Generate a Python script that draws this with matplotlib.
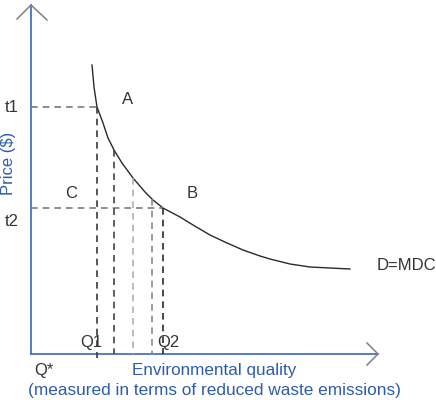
import matplotlib
matplotlib.use("Agg")
import matplotlib.pyplot as plt

plt.rcParams['font.family'] = ['Liberation Sans', 'DejaVu Sans']

# demand curve D=MDC (quantity, price)
curve_q = [61, 63, 66, 72, 77, 83, 91, 102, 114, 122, 132, 149, 162, 179,
           196, 212, 229, 239, 259, 279, 299, 319]
curve_p = [289, 267, 247, 231, 216, 204, 191, 176, 162, 154, 146, 137, 129,
           119, 111, 104, 98, 95, 90, 87, 86, 85]

# levels
t1, t2 = 247, 146
q1, q2 = 66, 132
# intermediate quantities with their price on the curve
mid_q = [83, 102, 121]
mid_p = [204, 176, 155]
mid_colors = ['#444444', '#b0b0b0', '#8a8a8a']

axis_blue = '#4a72c0'
text_blue = '#2f5ca8'
dark = '#333333'
dash_grey = '#7a7a7a'

fig = plt.figure(figsize=(4.36, 4.0), dpi=100)
ax = fig.add_axes([0, 0, 1, 1])
ax.set_xlim(-31, 405)
ax.set_ylim(-46, 354)
ax.axis('off')

# axes with open arrow heads
ax.plot([0, 0], [0, 349], color=axis_blue, lw=1.3)
ax.plot([0, 347], [0, 0], color=axis_blue, lw=1.3)
ax.plot([-14, 0, 16], [335, 349, 334], color='#808080', lw=1.1)
ax.plot([336, 347, 336], [11, 0, -11], color='#808080', lw=1.1)

# demand curve
ax.plot(curve_q, curve_p, color='#2a2a2a', lw=1.0, solid_joinstyle='round')

dash = (0, (4, 3))
# horizontal guides
ax.plot([0, q1], [t1, t1], color=dash_grey, lw=1.2, linestyle=dash)
ax.plot([0, q2], [t2, t2], color=dash_grey, lw=1.2, linestyle=dash)
# vertical guides
ax.plot([q1, q1], [t1, -4], color='#3a3a3a', lw=1.2, linestyle=dash)
for q, p, c in zip(mid_q, mid_p, mid_colors):
    ax.plot([q, q], [p, 0], color=c, lw=1.2, linestyle=dash)
ax.plot([q2, q2], [t2, 0], color='#2a2a2a', lw=1.2, linestyle=dash)

fs = 12
ax.text(-19, t1, 't1', fontsize=fs, color=dark, ha='center', va='center')
ax.text(-19, 132, 't2', fontsize=fs, color=dark, ha='center', va='center')
ax.text(97, 255, 'A', fontsize=fs, color=dark, ha='center', va='center')
ax.text(161, 161, 'B', fontsize=fs, color=dark, ha='center', va='center')
ax.text(40, 161, 'C', fontsize=fs, color=dark, ha='center', va='center')
ax.text(346, 89, 'D=MDC', fontsize=fs, color=dark, ha='left', va='center')
ax.text(60, 12, 'Q1', fontsize=fs, color=dark, ha='center', va='center')
ax.text(137, 12, 'Q2', fontsize=fs, color=dark, ha='center', va='center')
ax.text(13, -16, 'Q*', fontsize=fs, color=dark, ha='center', va='center')

ax.text(-23, 191, 'Price ($)', fontsize=fs, color=text_blue, ha='center',
        va='center', rotation=90)
ax.text(101, -16, 'Environmental quality', fontsize=12.3, color=text_blue,
        ha='left', va='center')
ax.text(183, -36, '(measured in terms of reduced waste emissions)',
        fontsize=12.4, color=text_blue, ha='center', va='center')

fig.savefig('out.png', dpi=100, facecolor='white')
